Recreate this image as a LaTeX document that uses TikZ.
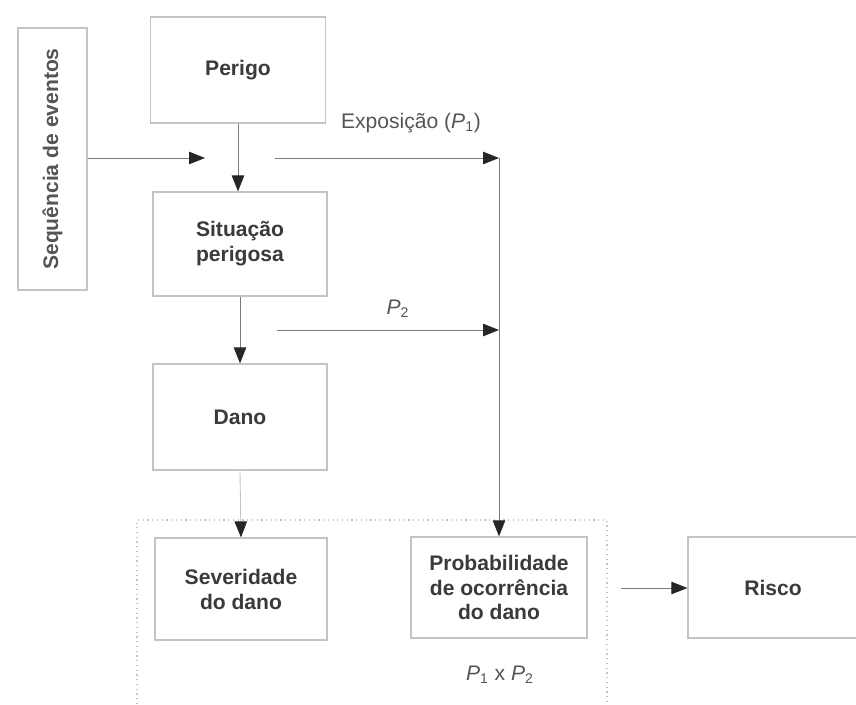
\documentclass[tikz,border=0pt]{standalone}
\usepackage{fontspec}
\setmainfont{Liberation Sans}
\usetikzlibrary{arrows.meta}
\definecolor{boxgray}{HTML}{C4C4C4}
\definecolor{txtgray}{HTML}{3A3A3A}
\definecolor{lblgray}{HTML}{555555}
\definecolor{arrgray}{HTML}{7A7A7A}
\begin{document}
\begin{tikzpicture}[x=0.02cm, y=0.02cm, every node/.style={font=\fontsize{12}{14.2}\selectfont}]
\tikzstyle{box}=[draw=boxgray, line width=0.7pt, align=center, inner sep=0pt, text=txtgray, font=\fontsize{12}{14.2}\selectfont\bfseries]
\tikzstyle{lbl}=[inner sep=0pt, text=lblgray]
\tikzstyle{arr}=[draw=arrgray, line width=0.5pt, -{Triangle[length=3.2mm,width=2.5mm,color=black!85]}]
\useasboundingbox (0,0) rectangle (856,-704);
% boxes
\node [box, minimum width=1.38cm, minimum height=5.24cm, text=lblgray] (seq) at (52.5,-159) {\rotatebox{90}{Sequência de eventos}};
\node [box, minimum width=3.5cm, minimum height=2.12cm] (perigo) at (238,-70) {Perigo};
\node [box, minimum width=3.48cm, minimum height=2.08cm] (situacao) at (240,-244) {Situação\\perigosa};
\node [box, minimum width=3.48cm, minimum height=2.12cm] (dano) at (240,-417) {Dano};
\node [box, minimum width=3.44cm, minimum height=2.04cm] (severidade) at (241,-589) {Severidade\\do dano};
\node [box, minimum width=3.52cm, minimum height=2.02cm] (prob) at (499,-587.5) {Probabilidade\\de ocorrência\\do dano};
\node [box, minimum width=3.4cm, minimum height=2.02cm] (risco) at (773,-587.5) {Risco};
% labels
\node [lbl] (expo) at (411,-123) {Exposição (\textit{P}\textsubscript{1})};
\node [lbl] (ptwo) at (398,-309) {\textit{P}\textsubscript{2}};
\node [lbl] (pprod) at (500,-675) {\textit{P}\textsubscript{1} x \textit{P}\textsubscript{2}};
% dotted frame
\draw [boxgray, dotted, line width=0.7pt] (137,-704) -- (137,-520) -- (607,-520) -- (607,-704);
% connectors
\coordinate (seqend) at (205,-158);
\coordinate (e1) at (275,-158);
\coordinate (j1) at (499,-158);
\coordinate (e2) at (277,-330);
\coordinate (j2) at (499,-330);
\coordinate (e3) at (621,-588);
\draw [arr] (seq.east |- seqend) -- (seqend);
\draw [arr] (perigo.south) -- (perigo.south |- situacao.north);
\draw [arr] (e1) -- (j1);
\draw [arr] (j1) -- (prob.north);
\draw [arr] (situacao.south) -- (dano.north);
\draw [arr] (e2) -- (j2);
\draw [arr, draw=boxgray] (dano.south) -- (severidade.north);
\draw [arr] (e3) -- (risco.west |- e3);
\end{tikzpicture}
\end{document}
